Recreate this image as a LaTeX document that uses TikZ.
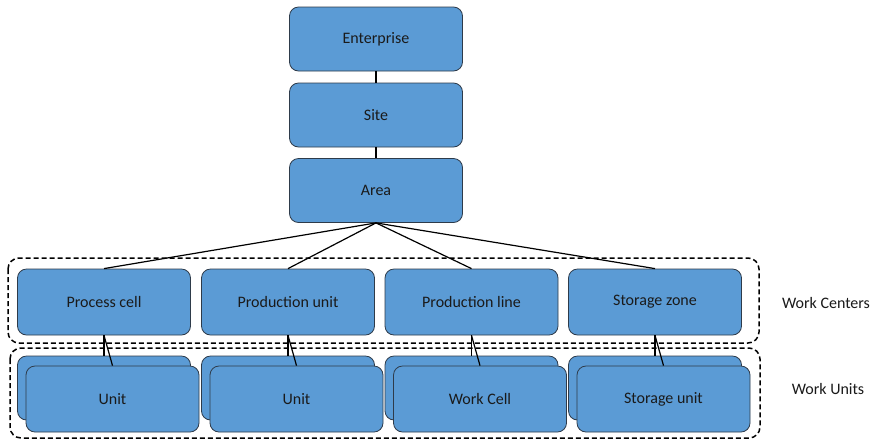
\documentclass[tikz,border=0pt]{standalone}
\usepackage{fontspec}
\setmainfont{Carlito}
\definecolor{boxfill}{HTML}{5B9BD5}
\definecolor{boxline}{HTML}{2E3B4A}
\definecolor{txt}{HTML}{1A1A1A}
\begin{document}
\begin{tikzpicture}[x=1pt,y=-1pt,
  blk/.style={draw=boxline,fill=boxfill,rounded corners=9pt,line width=0.8pt,
    minimum width=173pt,minimum height=64pt,inner sep=0pt,
    font=\fontsize{16}{18}\selectfont,text=txt},
  grp/.style={draw=black,dashed,dash pattern=on 5pt off 3pt,line width=1.5pt,rounded corners=11pt},
  lbl/.style={font=\fontsize{16}{18}\selectfont,text=txt},
  link/.style={draw=black,line width=1.2pt}]
\useasboundingbox (0,0) rectangle (874,440);
\fill[white] (0,0) rectangle (874,440);

% dashed group frames
\draw[grp] (8,258) rectangle (759,343);
\draw[grp] (10,348) rectangle (760,438);

% upper hierarchy
\node[blk] (ent) at (376,39) {Enterprise};
\node[blk] (site) at (376,115) {Site};
\node[blk] (area) at (376,190.5) {Area};

% work centers
\node[blk,minimum height=66pt] (pc) at (104,302) {Process cell};
\node[blk,minimum height=66pt] (pu) at (288,302) {Production unit};
\node[blk,minimum height=66pt] (pl) at (471.5,302) {Production line};
\node[blk,minimum height=66pt] (sz) at (655,302) {Storage zone};

% stacked work units: back copies
\node[blk] (ub1) at (104,388) {};
\node[blk] (ub2) at (288,388) {};
\node[blk] (ub3) at (471.5,388) {};
\node[blk] (ub4) at (655,388) {};
% front copies
\node[blk,minimum height=66pt] (uf1) at (112.5,399) {Unit};
\node[blk,minimum height=66pt] (uf2) at (296.5,399) {Unit};
\node[blk,minimum height=66pt] (uf3) at (480,399) {Work Cell};
\node[blk,minimum height=66pt] (uf4) at (663.5,399) {Storage unit};

% connectors
\draw[link] (ent.south) -- (site.north);
\draw[link] (site.south) -- (area.north);
\foreach \w in {pc,pu,pl,sz} \draw[link] (area.south) -- (\w.north);
\foreach \w/\b/\f in {pc/ub1/uf1,pu/ub2/uf2,pl/ub3/uf3,sz/ub4/uf4}{
  \draw[link] (\w.south) -- (\b.north);
  \draw[link] (\w.south) -- (\f.north);
}

% group labels
\node[lbl] (wc) at (826,303) {Work Centers};
\node[lbl] (wu) at (828,389) {Work Units};
\end{tikzpicture}
\end{document}
